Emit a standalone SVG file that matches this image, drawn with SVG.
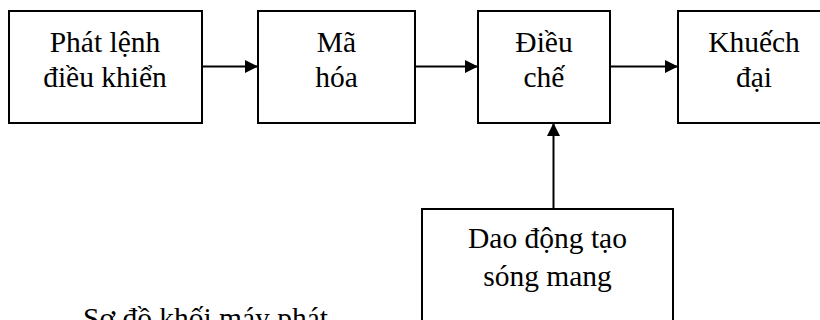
<svg xmlns="http://www.w3.org/2000/svg" width="820" height="320" viewBox="0 0 820 320">
<defs>
<style>
.box{fill:#fff;stroke:#000;stroke-width:2}
.t{font-family:'Liberation Serif','DejaVu Serif',serif;font-size:29.5px;fill:#000;text-anchor:middle}
.c{font-family:'Liberation Serif','DejaVu Serif',serif;font-size:29.5px;fill:#000}
.ln{stroke:#000;stroke-width:2;fill:none}
</style>
<marker id="ah" viewBox="0 0 13 13" refX="13" refY="6.5" markerWidth="13" markerHeight="13" markerUnits="userSpaceOnUse" orient="auto">
<path d="M0,0 L13,6.5 L0,13 Z" fill="#000"/>
</marker>
</defs>
<rect width="820" height="320" fill="#fff"/>
<g id="connectors">
<line class="ln" x1="202" y1="66.5" x2="258" y2="66.5" marker-end="url(#ah)"/>
<line class="ln" x1="415" y1="66.5" x2="478" y2="66.5" marker-end="url(#ah)"/>
<line class="ln" x1="610" y1="66.5" x2="678" y2="66.5" marker-end="url(#ah)"/>
<line class="ln" x1="553.5" y1="209" x2="553.5" y2="123" marker-end="url(#ah)"/>
</g>
<g id="phat-lenh">
<rect class="box" x="9" y="11" width="193" height="112"/>
<text class="t" x="105" y="52" font-family="Liberation Serif">Phát lệnh</text>
<text class="t" x="105" y="87" font-family="Liberation Serif">điều khiển</text>
</g>
<g id="ma-hoa">
<rect class="box" x="258" y="11" width="157" height="112"/>
<text class="t" x="336.5" y="52">Mã</text>
<text class="t" x="336.5" y="87">hóa</text>
</g>
<g id="dieu-che">
<rect class="box" x="478" y="11" width="132" height="112"/>
<text class="t" x="544" y="52">Điều</text>
<text class="t" x="544" y="87">chế</text>
</g>
<g id="khuech-dai">
<rect class="box" x="678" y="11" width="160" height="112"/>
<text class="t" x="754" y="52">Khuếch</text>
<text class="t" x="754" y="87">đại</text>
</g>
<g id="dao-dong">
<rect class="box" x="422" y="209" width="251" height="130"/>
<text class="t" x="547.5" y="248">Dao động tạo</text>
<text class="t" x="547.5" y="286">sóng mang</text>
</g>
<text class="c" x="83" y="328">Sơ đồ khối máy phát</text>
</svg>
